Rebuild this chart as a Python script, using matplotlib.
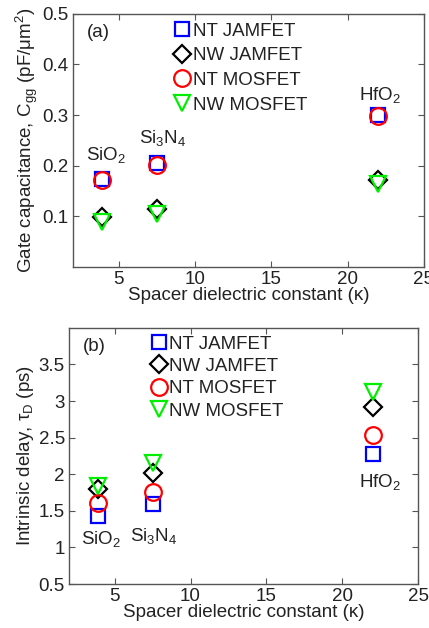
import matplotlib
matplotlib.use('Agg')
from matplotlib import pyplot as plt

plt.rcParams['font.family'] = ['Liberation Sans', 'DejaVu Sans']
plt.rcParams['mathtext.fontset'] = 'custom'
plt.rcParams['mathtext.rm'] = 'Liberation Sans'
plt.rcParams['mathtext.it'] = 'Liberation Sans:italic'
plt.rcParams['mathtext.default'] = 'rm'

# spacer dielectric constants: SiO2, Si3N4, HfO2
kappa = [3.9, 7.5, 22.0]
series = ['NT JAMFET', 'NW JAMFET', 'NT MOSFET', 'NW MOSFET']

# (a) gate capacitance (pF/um^2)
cgg_nt_jam = [0.174, 0.205, 0.300]
cgg_nw_jam = [0.098, 0.115, 0.172]
cgg_nt_mos = [0.171, 0.201, 0.298]
cgg_nw_mos = [0.088, 0.105, 0.164]

# (b) intrinsic delay (ps)
tau_nt_jam = [1.43, 1.60, 2.28]
tau_nw_jam = [1.80, 2.01, 2.92]
tau_nt_mos = [1.61, 1.76, 2.53]
tau_nw_mos = [1.84, 2.15, 3.13]

styles = [('s', '#0000ff'), ('D', '#000000'), ('o', '#ff0000'), ('v', '#00ee00')]
sizes = [10, 9, 12, 12]
txt = '#222222'
gray = '#555555'
fs = 13.5

fig = plt.figure(figsize=(4.29, 6.28), dpi=100)
ax1 = fig.add_axes([0.170, 0.575, 0.818, 0.403])
ax2 = fig.add_axes([0.161, 0.070, 0.814, 0.408])


def draw(ax, data, ylim, yticks, ylabel, tag, labels, leg_x, leg_y, spacing):
    for (m, c), ms, name, ys in zip(styles, sizes, series, data):
        ax.plot(kappa, ys, linestyle='none', marker=m, markersize=ms,
                markerfacecolor='none', markeredgecolor=c, markeredgewidth=1.6,
                label=name)
    ax.set_xlim(2, 25)
    ax.set_ylim(*ylim)
    ax.set_xticks([5, 10, 15, 20, 25])
    ax.set_yticks(yticks)
    ax.set_yticklabels([('%g' % t) for t in yticks])
    ax.tick_params(direction='in', top=True, right=True, length=4,
                   labelsize=fs, colors=gray, labelcolor=txt, pad=3)
    for s in ax.spines.values():
        s.set_color(gray)
        s.set_linewidth(1.0)
    ax.set_xlabel('Spacer dielectric constant (\u03ba)', fontsize=fs,
                  color=txt, labelpad=-1)
    ax.set_ylabel(ylabel, fontsize=fs, color=txt, labelpad=2)
    ax.text(0.04, 0.91, tag, transform=ax.transAxes, fontsize=fs, color=txt)
    for s, x, y in labels:
        ax.text(x, y, s, fontsize=fs, color=txt, ha='center', va='center')
    ax.legend(loc='upper left', bbox_to_anchor=(leg_x, leg_y), frameon=False,
              fontsize=fs, handlelength=0.8, handletextpad=0.15,
              labelspacing=spacing, borderpad=0, borderaxespad=0,
              labelcolor=txt)


draw(ax1, [cgg_nt_jam, cgg_nw_jam, cgg_nt_mos, cgg_nw_mos], (0, 0.5),
     [0.1, 0.2, 0.3, 0.4, 0.5],
     'Gate capacitance, C$_{\\mathrm{gg}}$ (pF/\u03bcm$^2$)', '(a)',
     [('SiO$_2$', 4.2, 0.222), ('Si$_3$N$_4$', 7.9, 0.255),
      ('HfO$_2$', 22.1, 0.34)], 0.29, 0.965, 0.4)
draw(ax2, [tau_nt_jam, tau_nw_jam, tau_nt_mos, tau_nw_mos], (0.5, 4.0),
     [0.5, 1, 1.5, 2, 2.5, 3, 3.5],
     'Intrinsic delay, \u03c4$_\\mathrm{D}$ (ps)', '(b)',
     [('SiO$_2$', 4.1, 1.12), ('Si$_3$N$_4$', 7.6, 1.15),
      ('HfO$_2$', 22.5, 1.9)], 0.235, 0.97, 0.28)

fig.savefig('out.png', dpi=100)
